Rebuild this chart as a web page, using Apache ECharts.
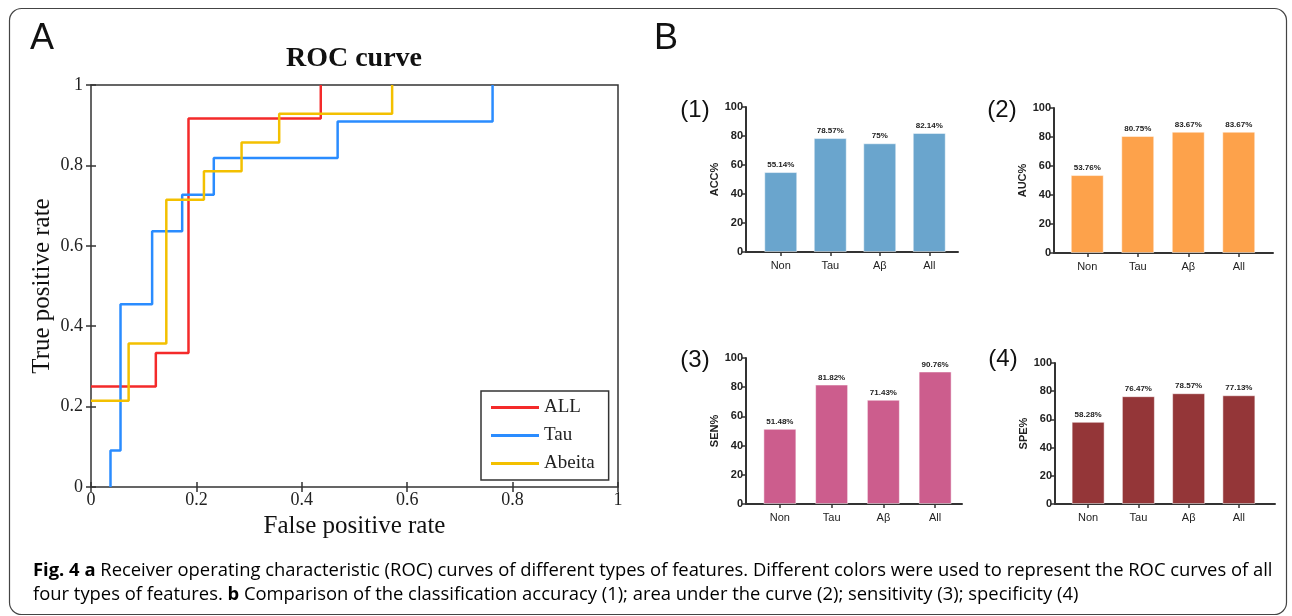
<!DOCTYPE html>
<html>
<head>
<meta charset="utf-8">
<script src="https://cdn.jsdelivr.net/npm/echarts@6/dist/echarts.min.js"></script>
<style>
  html, body { margin: 0; padding: 0; background: #fff; }
  #main { width: 1292px; height: 616px; }
</style>
</head>
<body>
<div id="main"></div>
<script>
// ROC 曲线拐点 (FPR, TPR)，step: 'end' 先水平再竖直
const allFpr = [0, 0.123, 0.185, 0.436];
const allTpr = [0.25, 0.3333, 0.9167, 1];
const tauFpr = [0.037, 0.037, 0.056, 0.116, 0.173, 0.233, 0.468, 0.762];
const tauTpr = [0, 0.0909, 0.4545, 0.6364, 0.7273, 0.8182, 0.9091, 1];
const abFpr = [0, 0.0714, 0.1429, 0.2143, 0.2857, 0.3571, 0.5714];
const abTpr = [0.2143, 0.3571, 0.7143, 0.7857, 0.8571, 0.9286, 1];

// 柱状图
const barCats = ['Non', 'Tau', 'Aβ', 'All'];
const accVals = [55.14, 78.57, 75, 82.14];
const aucVals = [53.76, 80.75, 83.67, 83.67];
const senVals = [51.48, 81.82, 71.43, 90.76];
const speVals = [58.28, 76.47, 78.57, 77.13];

const serif = "'Liberation Serif', 'DejaVu Serif', serif";
const sans = "'Liberation Sans', Arial, sans-serif";

const zip = (xs, ys) => xs.map((x, i) => [x, ys[i]]);

// 面板位置 (像素)
const panels = [
    { vals: accVals, name: 'ACC%', color: '#6aa5cd', tag: '(1)', tagX: 695, tagY: 110,
      axisX: 746, top: 107, bottom: 252, end: 958, inLeft: 756, inW: 198 },
    { vals: aucVals, name: 'AUC%', color: '#fda24b', tag: '(2)', tagX: 1002, tagY: 110,
      axisX: 1054, top: 108, bottom: 253, end: 1273, inLeft: 1062, inW: 202 },
    { vals: senVals, name: 'SEN%', color: '#cc5d8d', tag: '(3)', tagX: 695, tagY: 360,
      axisX: 746, top: 358, bottom: 504, end: 962, inLeft: 754, inW: 207 },
    { vals: speVals, name: 'SPE%', color: '#943638', tag: '(4)', tagX: 1003, tagY: 359,
      axisX: 1055, top: 363, bottom: 504, end: 1275, inLeft: 1063, inW: 201 }
];

const grid = [{ left: 91, top: 85, width: 527, height: 402, show: true, borderColor: '#333', borderWidth: 1.5 }];
const xAxis = [
    {
        type: 'value', gridIndex: 0, min: 0, max: 1, interval: 0.2,
        axisLine: { show: false },
        axisTick: { inside: true, length: 5, lineStyle: { color: '#333', width: 1.5 } },
        axisLabel: { fontFamily: serif, fontSize: 18, color: '#222', margin: 4 },
        splitLine: { show: false },
        name: 'False positive rate', nameLocation: 'middle', nameGap: 22,
        nameTextStyle: { fontFamily: serif, fontSize: 25, color: '#111' }
    },
    {
        type: 'value', gridIndex: 0, min: 0, max: 1, interval: 0.2, position: 'top',
        axisLine: { show: false },
        axisTick: { inside: true, length: 5, lineStyle: { color: '#333', width: 1.5 } },
        axisLabel: { show: false }, splitLine: { show: false }
    }
];
const yAxis = [
    {
        type: 'value', gridIndex: 0, min: 0, max: 1, interval: 0.2,
        axisLine: { show: false },
        axisTick: { inside: true, length: 5, lineStyle: { color: '#333', width: 1.5 } },
        axisLabel: { fontFamily: serif, fontSize: 18, color: '#222', margin: 8 },
        splitLine: { show: false },
        name: 'True positive rate', nameLocation: 'middle', nameGap: 36,
        nameTextStyle: { fontFamily: serif, fontSize: 25, color: '#111' }
    },
    {
        type: 'value', gridIndex: 0, min: 0, max: 1, interval: 0.2, position: 'right',
        axisLine: { show: false },
        axisTick: { inside: true, length: 5, lineStyle: { color: '#333', width: 1.5 } },
        axisLabel: { show: false }, splitLine: { show: false }
    }
];

const rocLine = (name, data, color) => ({
    type: 'line', name: name, xAxisIndex: 0, yAxisIndex: 0,
    data: data, step: 'end', symbol: 'none',
    lineStyle: { color: color, width: 2.5 }, itemStyle: { color: color },
    animation: false
});

const series = [
    rocLine('ALL', zip(allFpr, allTpr), '#f42a2a'),
    rocLine('Tau', zip(tauFpr, tauTpr), '#2a8cff'),
    rocLine('Abeita', zip(abFpr, abTpr), '#f3c000')
];

const graphic = [
    { type: 'rect', shape: { x: 9.5, y: 8.5, width: 1277, height: 606, r: 12 },
      style: { fill: 'none', stroke: '#444', lineWidth: 1.2 }, z: -1 },
    { type: 'text', x: 42, y: 39, style: { text: 'A', font: '36px ' + sans, fill: '#111', textAlign: 'center', textVerticalAlign: 'middle' } },
    { type: 'text', x: 666, y: 39, style: { text: 'B', font: '36px ' + sans, fill: '#111', textAlign: 'center', textVerticalAlign: 'middle' } },
    { type: 'text', x: 354, y: 59, style: { text: 'ROC curve', font: 'bold 28px ' + serif, fill: '#111', textAlign: 'center', textVerticalAlign: 'middle' } }
];

panels.forEach((p) => {
    const outer = grid.length;
    grid.push({ left: p.axisX, top: p.top, width: p.end - p.axisX, height: p.bottom - p.top });
    grid.push({ left: p.inLeft, top: p.top, width: p.inW, height: p.bottom - p.top });
    const ox = xAxis.length, oy = yAxis.length;
    // 外框坐标轴：只画轴线和 y 刻度
    xAxis.push({
        type: 'value', gridIndex: outer, min: 0, max: 1,
        axisLine: { show: true, lineStyle: { color: '#333', width: 2 } },
        axisTick: { show: false }, axisLabel: { show: false }, splitLine: { show: false }
    });
    yAxis.push({
        type: 'value', gridIndex: outer, min: 0, max: 100, interval: 20,
        axisLine: { show: true, lineStyle: { color: '#333', width: 2 } },
        axisTick: { show: true, length: 4, lineStyle: { color: '#333', width: 1.5 } },
        axisLabel: { fontFamily: sans, fontSize: 11, fontWeight: 'bold', color: '#222', margin: 3 },
        splitLine: { show: false },
        name: p.name, nameLocation: 'middle', nameGap: 25,
        nameTextStyle: { fontFamily: sans, fontSize: 11, fontWeight: 'bold', color: '#222' }
    });
    // 内部类目轴：放柱子
    xAxis.push({
        type: 'category', gridIndex: outer + 1, data: barCats,
        axisLine: { show: false },
        axisTick: { show: true, alignWithLabel: true, length: 4, lineStyle: { color: '#333', width: 1.5 } },
        axisLabel: { fontFamily: sans, fontSize: 11, color: '#222', margin: 8 }
    });
    yAxis.push({ type: 'value', gridIndex: outer + 1, min: 0, max: 100, show: false });
    series.push({
        type: 'bar', xAxisIndex: ox + 1, yAxisIndex: oy + 1,
        data: p.vals, barWidth: 33,
        itemStyle: { color: p.color, borderColor: 'rgba(255,255,255,0.5)', borderWidth: 1 },
        label: { show: true, position: 'top', distance: 3, formatter: '{c}%',
                 fontFamily: sans, fontSize: 8, fontWeight: 'bold', color: '#222' },
        animation: false
    });
    graphic.push({ type: 'text', x: p.tagX, y: p.tagY,
        style: { text: p.tag, font: '24px ' + sans, fill: '#111', textAlign: 'center', textVerticalAlign: 'middle' } });
});

// 图注
const capRich = {
    b: { fontFamily: "'Open Sans', sans-serif", fontSize: 18.4, fontWeight: 'bold', color: '#231f20' },
    n: { fontFamily: "'Open Sans', sans-serif", fontSize: 18.4, color: '#231f20' }
};
graphic.push({ type: 'text', x: 33, y: 571,
    style: { text: '{b|Fig. 4 a}{n| Receiver operating characteristic (ROC) curves of different types of features. Different colors were used to represent the ROC curves of all}',
             rich: capRich, textVerticalAlign: 'middle' } });
graphic.push({ type: 'text', x: 33, y: 595,
    style: { text: '{n|four types of features. }{b|b}{n| Comparison of the classification accuracy (1); area under the curve (2); sensitivity (3); specificity (4)}',
             rich: capRich, textVerticalAlign: 'middle' } });

const chart = echarts.init(document.getElementById('main'));
chart.setOption({
    animation: false,
    backgroundColor: '#fff',
    grid: grid,
    xAxis: xAxis,
    yAxis: yAxis,
    legend: {
        data: ['ALL', 'Tau', 'Abeita'],
        orient: 'vertical', left: 481, top: 391,
        icon: 'rect',
        backgroundColor: '#fff', borderColor: '#333', borderWidth: 1.5,
        padding: [7, 14, 7, 10], itemWidth: 48, itemHeight: 3, itemGap: 9,
        textStyle: { fontFamily: serif, fontSize: 19, color: '#222' }
    },
    graphic: graphic,
    series: series
});
window.addEventListener('resize', () => chart.resize());
</script>
</body>
</html>
